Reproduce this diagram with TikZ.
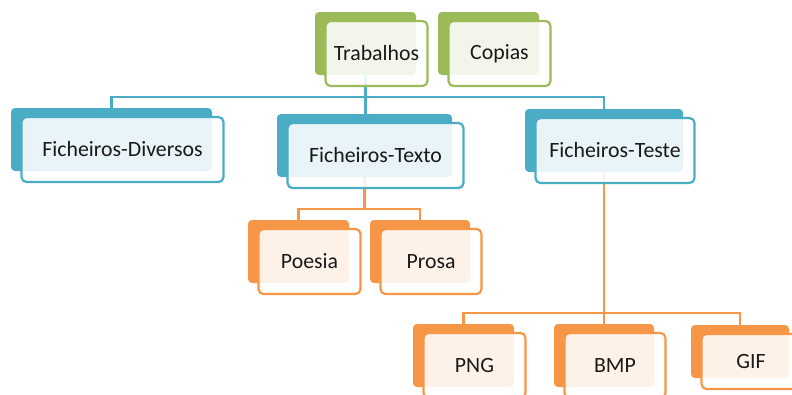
\documentclass[tikz,border=0pt]{standalone}
\usepackage{fontspec}
\setmainfont{Carlito}
\pgfdeclarelayer{lines}
\pgfdeclarelayer{backs}
\pgfsetlayers{lines,backs,main}
\definecolor{cgreen}{HTML}{9BBB59}
\definecolor{cblue}{HTML}{4BACC6}
\definecolor{corange}{HTML}{F79646}
\tikzset{
  backbox/.style={fill=#1, draw=none, rounded corners=4pt, inner sep=0pt},
  frontbox/.style={draw=#1, line width=2.2pt, fill=white, fill opacity=0.88, text opacity=1,
    rounded corners=5pt, inner sep=0pt, font=\fontsize{21.8}{25}\selectfont, text=black!90},
  conn/.style={draw=#1, line width=2.3pt},
}
\newcommand\orgbox[7]{%
  \begin{pgfonlayer}{backs}
    \node[backbox=#6, minimum width={#4pt}, minimum height={#5pt}] (#1-b) at ({#2+#4/2},{#3+#5/2}) {};
  \end{pgfonlayer}
  \node[frontbox=#6, minimum width={#4pt+1pt}, minimum height={#5pt+2pt}] (#1) at ({#2+#4/2+11},{#3+#5/2+10}) {#7};
}
\begin{document}
\begin{tikzpicture}[x=1pt,y=-1pt]
\useasboundingbox (0,0) rectangle (792,394);
\orgbox{T}{315}{12}{101}{63}{cgreen}{Trabalhos}
\orgbox{C}{438}{12}{101}{63}{cgreen}{Copias}
\orgbox{D}{11}{108}{201}{63}{cblue}{Ficheiros-Diversos}
\orgbox{X}{277}{114}{175}{63}{cblue}{Ficheiros-Texto}
\orgbox{E}{525}{109}{158}{63}{cblue}{Ficheiros-Teste}
\orgbox{Po}{248}{220}{101}{63}{corange}{Poesia}
\orgbox{Pr}{370}{220}{100}{63}{corange}{Prosa}
\orgbox{PNG}{413}{324}{101}{63}{corange}{PNG}
\orgbox{BMP}{554}{324}{100}{63}{corange}{BMP}
\orgbox{GIF}{691}{325}{98}{53}{corange}{GIF}
\coordinate (busA) at (0,97);
\coordinate (busB) at (0,209);
\coordinate (busC) at (0,313);
\begin{pgfonlayer}{lines}
  \draw[conn=cblue] (T-b.south) -- (T-b.south |- X-b.north);
  \draw[conn=cblue] (D-b.north) -- (D-b.north |- busA) -- (E-b.north |- busA) -- (E-b.north);
  \draw[conn=corange] (X-b.south) -- (X-b.south |- busB);
  \draw[conn=corange] (Po-b.north) -- (Po-b.north |- busB) -- (Pr-b.north |- busB) -- (Pr-b.north);
  \draw[conn=corange] (E-b.south) -- (E-b.south |- BMP-b.north);
  \draw[conn=corange] (PNG-b.north) -- (PNG-b.north |- busC) -- (GIF-b.north |- busC) -- (GIF-b.north);
\end{pgfonlayer}
\end{tikzpicture}
\end{document}
